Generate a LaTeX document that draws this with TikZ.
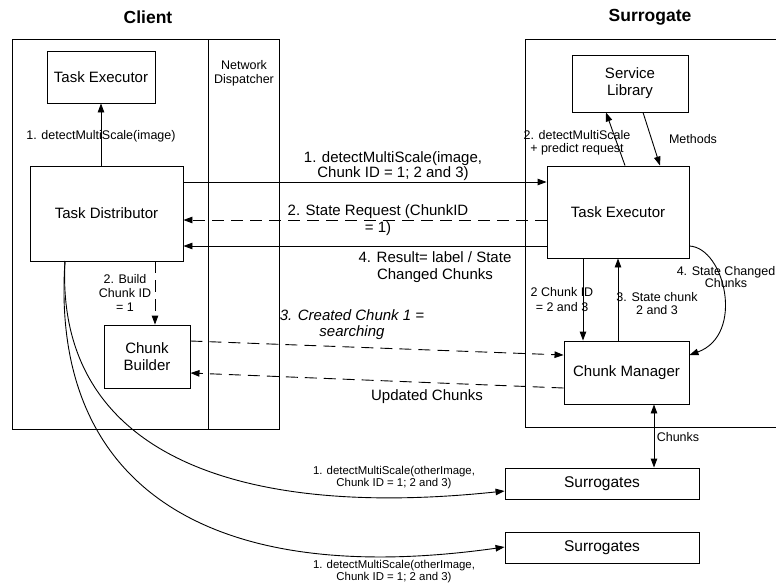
\documentclass[tikz,border=0pt]{standalone}
\usepackage{fontspec}
\setmainfont{Liberation Sans}
\usetikzlibrary{arrows.meta}
\begin{document}
\begin{tikzpicture}[x=1pt,y=-1pt,
  line width=0.9pt,
  box/.style={draw, line width=0.9pt, inner sep=0pt, align=center, font=\fontsize{15}{17}\selectfont},
  slbl/.style={inner sep=0pt, align=center, font=\fontsize{12.5}{13.5}\selectfont},
  mlbl/.style={inner sep=0pt, align=center, font=\fontsize{15}{16.5}\selectfont},
  blbl/.style={inner sep=0pt, align=center, font=\fontsize{11.4}{12}\selectfont},
  ttl/.style={inner sep=0pt, font=\fontsize{17.5}{20}\selectfont\bfseries},
  arr/.style={-{Triangle[length=9pt,width=6.5pt]}},
  darr/.style={arr, dash pattern=on 12pt off 7pt},
  dbl/.style={{Triangle[length=9pt,width=6.5pt]}-{Triangle[length=9pt,width=6.5pt]}}
]
\useasboundingbox (0,0) rectangle (776,584);

% titles
\node[ttl] (tclient) at (148,17) {Client};
\node[ttl] (tsurr) at (650,17) {Surrogate};

% client frame
\node[draw, line width=0.9pt, minimum width=267pt, minimum height=390pt, inner sep=0pt] (client) at (145.5,234) {};
\coordinate (ndtop) at (208,39);
\coordinate (ndbot) at (208,429);
\draw (ndtop) -- (ndbot);
\node[slbl, font=\fontsize{12.5}{14}\selectfont] (nd) at (244,73) {Network\\Dispatcher};

% surrogate frame (right side runs past the edge)
\coordinate (sf1) at (776,39);
\coordinate (sf2) at (525,39);
\coordinate (sf3) at (525,427);
\coordinate (sf4) at (776,427);
\draw (sf1) -- (sf2) -- (sf3) -- (sf4);

% boxes
\node[box, minimum width=108pt, minimum height=52pt] (cte) at (101,77) {Task Executor};
\node[box, minimum width=153pt, minimum height=95pt] (td) at (106.5,213.5) {Task Distributor};
\node[box, minimum width=86pt, minimum height=63pt] (cb) at (147,356.5) {Chunk\\Builder};
\node[box, minimum width=116pt, minimum height=57pt] (sl) at (630,83.5) {Service\\Library};
\node[box, minimum width=142pt, minimum height=92pt] (ste) at (618,212) {Task Executor};
\node[box, minimum width=125pt, minimum height=63pt] (cm) at (626.5,372.5) {Chunk Manager};
\node[box, minimum width=194pt, minimum height=31pt, font=\fontsize{15.5}{17}\selectfont] (s1) at (602,483.5) {Surrogates};
\node[box, minimum width=194pt, minimum height=31pt, font=\fontsize{15.5}{17}\selectfont] (s2) at (602,547.5) {Surrogates};

% client internal
\draw[arr] (td.north -| 101,0) -- (cte.south -| 101,0);
\node[slbl] (l1) at (101,136) {1. detectMultiScale(image)};

\draw[darr] (td.south -| 155,0) -- (cb.north -| 155,0);
\node[slbl, font=\fontsize{12.5}{14}\selectfont] (l2) at (125,293) {2. Build\\Chunk ID\\= 1};

% client <-> surrogate
\draw[arr] (td.east |- 0,182) -- (ste.west |- 0,182);
\node[mlbl, font=\fontsize{15}{14.5}\selectfont] (l3) at (393,166) {1. detectMultiScale(image,\\Chunk ID = 1; 2 and 3)};

\draw[darr] (ste.west |- 0,220) -- (td.east |- 0,220);
\node[mlbl, font=\fontsize{15}{17}\selectfont] (l4) at (378,220.5) {2. State Request (ChunkID\\= 1)};

\draw[arr] (ste.west |- 0,246) -- (td.east |- 0,246);
\node[mlbl, font=\fontsize{15}{17}\selectfont] (l5) at (435,267.5) {4. Result= label / State\\Changed Chunks};

\draw[darr] (cb.east |- 0,341) -- (cm.west |- 0,355);
\node[mlbl, font=\fontsize{15}{16}\selectfont\itshape] (l6) at (352,325) {3. Created Chunk 1 =\\searching};

\draw[darr] (cm.west |- 0,388) -- (cb.east |- 0,373);
\node[mlbl] (l7) at (427,397) {Updated Chunks};

% surrogate internal
\draw[arr] (ste.north -| 625,0) -- (sl.south -| 606,0);
\node[slbl, font=\fontsize{12.5}{13}\selectfont] (l8) at (577,142.5) {2. detectMultiScale\\+ predict request};

\draw[arr] (sl.south -| 643,0) -- (ste.north -| 660,0);
\node[slbl] (l9) at (693,139) {Methods};

\draw[arr] (ste.south -| 583,0) -- (cm.north -| 583,0);
\node[slbl, font=\fontsize{12.5}{15}\selectfont] (l10) at (562,299.5) {2 Chunk ID\\= 2 and 3};

\draw[arr] (cm.north -| 618,0) -- (ste.south -| 618,0);
\node[slbl, font=\fontsize{12.5}{13}\selectfont] (l11) at (657,303.5) {3. State chunk\\2 and 3};

\draw[arr] (ste.east |- 0,246) .. controls (725,248) and (745,335) .. (cm.east |- 0,355);
\node[slbl, font=\fontsize{12.5}{12.5}\selectfont] (l12) at (726,277) {4. State Changed\\Chunks};

\draw[dbl] (cm.south -| 654,0) -- (s1.north -| 654,0);
\node[slbl] (l13) at (678,437) {Chunks};

% curves to other surrogates
\coordinate (cstart) at (65,261);
\draw[arr] (cstart) .. controls (55,450) and (230,520) .. (s1.west |- 0,491);
\node[blbl] (l14) at (394,477.5) {1. detectMultiScale(otherImage,\\Chunk ID = 1; 2 and 3)};

\draw[arr] (cstart) .. controls (50,480) and (200,590) .. (s2.west |- 0,547);
\node[blbl] (l15) at (394,571.5) {1. detectMultiScale(otherImage,\\Chunk ID = 1; 2 and 3)};
\end{tikzpicture}
\end{document}
